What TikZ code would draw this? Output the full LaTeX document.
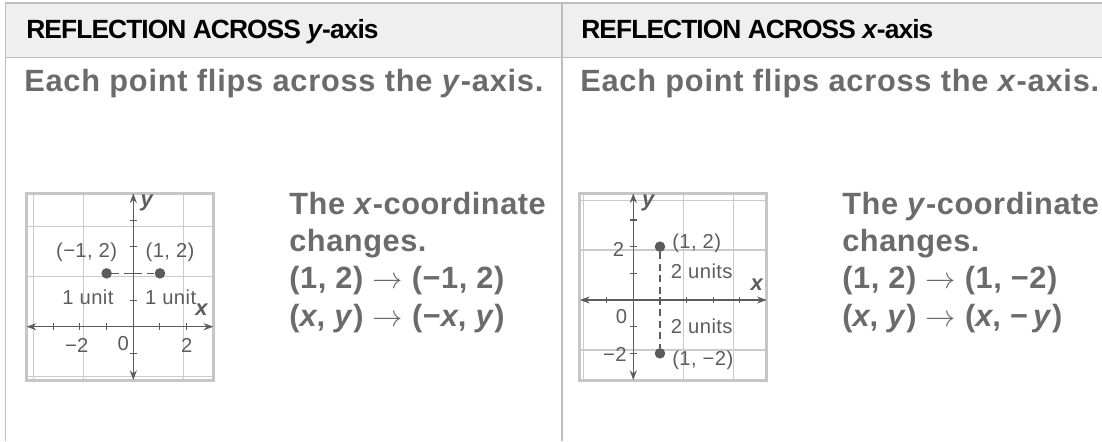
\documentclass[tikz,border=0pt]{standalone}
\usepackage{fontspec}
\setmainfont{Liberation Sans}
\usetikzlibrary{arrows.meta}

\definecolor{rulegray}{HTML}{BDBDBD}
\definecolor{headfill}{HTML}{EFEFEF}
\definecolor{textgray}{HTML}{6B6B6B}
\definecolor{gridgray}{HTML}{CBCBCB}
\definecolor{framegray}{HTML}{C6C6C6}
\definecolor{axisgray}{HTML}{5C5C5C}

\newcommand{\goesto}{\ $\rightarrow$\ }

\tikzset{
  rule/.style={draw=rulegray,line width=1.1pt},
  headtext/.style={anchor=base west,inner sep=0,font=\bfseries\fontsize{15}{17}\selectfont\addfontfeature{LetterSpace=-3.5}},
  leadtext/.style={anchor=base west,inner sep=0,text=textgray,font=\bfseries\fontsize{17.5}{21}\selectfont\addfontfeature{LetterSpace=2.5}},
  ruletext/.style={anchor=north west,inner sep=0,align=left,text=textgray,font=\bfseries\fontsize{17.5}{21.3}\selectfont\addfontfeature{LetterSpace=1.8}},
  gridline/.style={draw=gridgray,line width=0.6pt},
  gridframe/.style={draw=framegray,line width=1.7pt},
  axis/.style={draw=axisgray,line width=0.85pt},
  axisarrow/.style={axis,{Stealth[length=5.5pt,width=4pt]}-{Stealth[length=5.5pt,width=4pt]}},
  tickmark/.style={draw=axisgray,line width=0.6pt},
  dot/.style={circle,fill=axisgray,inner sep=0,minimum size=6pt},
  dashline/.style={draw=axisgray,line width=1pt,dash pattern=on 4pt off 2.5pt},
  lbl/.style={text=axisgray,inner sep=0,font=\fontsize{11.5}{13}\selectfont\addfontfeature{LetterSpace=2}},
  axlbl/.style={text=axisgray,inner sep=0,font=\bfseries\itshape\fontsize{12.5}{14}\selectfont},
}

\begin{document}
\begin{tikzpicture}[x=0.02cm,y=-0.02cm]
\useasboundingbox (0,0) rectangle (1102,441);
% table frame
\fill[headfill] (5.5,3.3) rectangle (1102,57.5);
\draw[rule] (1102,3.3) -- (5.5,3.3) -- (5.5,441);
\draw[rule] (5.5,57.5) -- (1102,57.5);
\draw[rule] (562,3.3) -- (562,441);
\node[headtext] (heady) at (26,38) {REFLECTION ACROSS \textit{y}-axis};
\node[headtext] (headx) at (581,38) {REFLECTION ACROSS \textit{x}-axis};
\node[leadtext] (leady) at (24,91) {Each point flips across the \textit{y}-axis.};
\node[leadtext] (leadx) at (580,91) {Each point flips across the \textit{x}-axis.};
% left graph
\begin{scope}[shift={(133.3,326.7)},x=0.5334cm,y=0.5334cm]
\draw[gridline] (-4,-2) grid (3,5);
\draw[gridframe] (-4,-2) rectangle (3,5);
\coordinate (lw) at (-4,0);
\coordinate (le) at (3,0);
\coordinate (ls) at (0,-2);
\coordinate (ln) at (0,5);
\draw[axisarrow] (lw) -- (le);
\draw[axisarrow] (ls) -- (ln);
\foreach \i in {-3,...,2} \draw[tickmark] (\i,-.13) -- (\i,.13);
\foreach \j in {-1,...,4} \draw[tickmark] (-.13,\j) -- (.13,\j);
\node[dot] (pl) at (-1,2) {};
\node[dot] (pr) at (1,2) {};
\draw[dashline] (pl) -- (pr);
\node[lbl] (pltxt) at (-1.75,2.81) {(−1, 2)};
\node[lbl] (prtxt) at (1.38,2.81) {(1, 2)};
\node[lbl] (ul) at (-1.7,1.12) {1 unit};
\node[lbl] (ur) at (1.4,1.12) {1 unit};
\node[axlbl] (lx) at (2.56,.63) {x};
\node[axlbl] (ly) at (.5,4.63) {y};
\node[lbl] (lm2) at (-2.12,-.69) {−2};
\node[lbl] (l0) at (-.38,-.62) {0};
\node[lbl] (lp2) at (2,-.69) {2};
\end{scope}
\node[ruletext] (rulex) at (289,191.5) {The \textit{x}-coordinate\\changes.\\(1, 2)\goesto(−1, 2)\\(\textit{x}, \textit{y})\goesto(−\textit{x}, \textit{y})};
% right graph
\begin{scope}[shift={(633.3,300)},x=0.5334cm,y=0.5334cm]
\draw[gridline] (-2,-3) grid (5,4);
\draw[gridframe] (-2,-3) rectangle (5,4);
\coordinate (rw) at (-2,0);
\coordinate (re) at (5,0);
\coordinate (rs) at (0,-3);
\coordinate (rn) at (0,4);
\draw[axisarrow] (rw) -- (re);
\draw[axisarrow] (rs) -- (rn);
\foreach \i in {-1,...,4} \draw[tickmark] (\i,-.13) -- (\i,.13);
\foreach \j in {-2,...,3} \draw[tickmark] (-.13,\j) -- (.13,\j);
\node[dot] (pt) at (1,2) {};
\node[dot] (pb) at (1,-2) {};
\draw[dashline] (pt) -- (pb);
\node[lbl,anchor=west] (pttxt) at (1.45,2.12) {(1, 2)};
\node[lbl,anchor=west] (ut) at (1.4,1.06) {2 units};
\node[lbl,anchor=west] (ub) at (1.4,-.98) {2 units};
\node[lbl,anchor=west] (pbtxt) at (1.45,-2.25) {(1, −2)};
\node[axlbl] (rx) at (4.63,.56) {x};
\node[axlbl] (ry) at (.56,3.63) {y};
\node[lbl] (rp2) at (-.56,1.88) {2};
\node[lbl] (r0) at (-.44,-.63) {0};
\node[lbl] (rm2) at (-.69,-2.06) {−2};
\end{scope}
\node[ruletext] (ruley) at (842,191.5) {The \textit{y}-coordinate\\changes.\\(1, 2)\goesto(1, −2)\\(\textit{x}, \textit{y})\goesto(\textit{x}, −\,\textit{y})};
\end{tikzpicture}
\end{document}
